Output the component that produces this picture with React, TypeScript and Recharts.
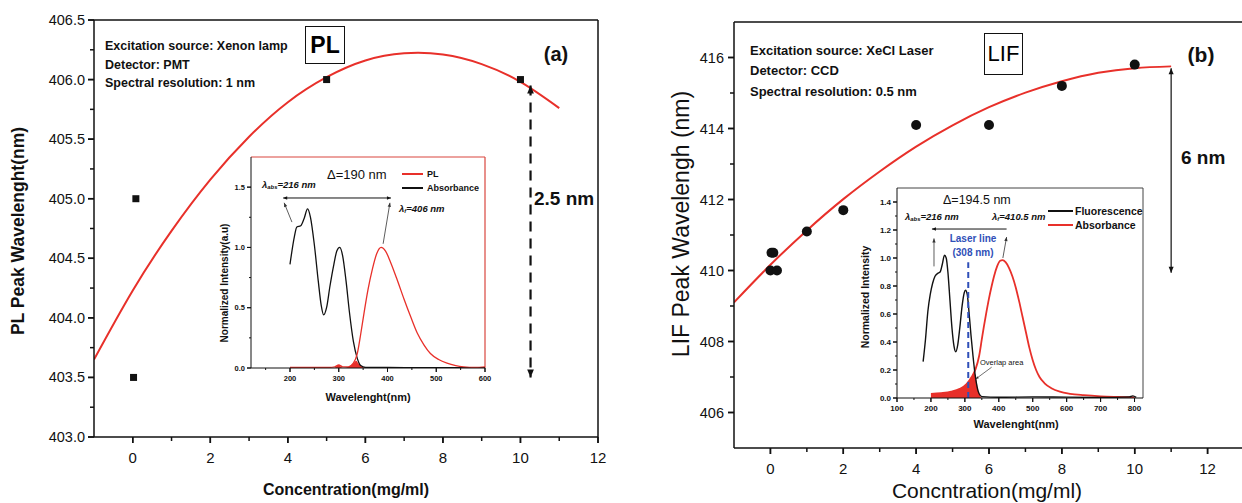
import React from "react";
import { Area, ComposedChart, Line, ReferenceLine, Scatter, XAxis, YAxis } from "recharts";

const FONT = "'Liberation Sans', Arial, Helvetica, sans-serif";
const RED = "#e8302a";
const INK = "#111";
const BLUE = "#2f4fb8";

// ---- panel (a): PL peak vs concentration
const concA = [0.08, 0.02, 5, 10];
const peakA = [405.0, 403.5, 406.0, 406.0];
const fitConcA = [-1, 0, 1, 2, 3, 4, 5, 6, 7, 8, 9, 10, 11];
const fitPeakA = [403.65, 404.23, 404.73, 405.16, 405.52, 405.81, 406.02, 406.16, 406.22, 406.21, 406.13, 405.98, 405.76];
const concTicksA = [0, 1, 2, 3, 4, 5, 6, 7, 8, 9, 10, 11, 12];
const peakTicksA = [403, 403.25, 403.5, 403.75, 404, 404.25, 404.5, 404.75, 405, 405.25, 405.5, 405.75, 406, 406.25, 406.5];

// inset (a)
const wlAbsA = [200, 209, 214, 222, 229, 236, 242, 250, 258, 264, 269, 275, 282, 290, 296, 302, 308, 315, 322, 330, 338, 345, 355, 400, 450, 500, 550, 600];
const absA = [0.86, 1.09, 1.17, 1.18, 1.24, 1.32, 1.25, 1.02, 0.72, 0.52, 0.44, 0.5, 0.68, 0.86, 0.97, 1.0, 0.93, 0.72, 0.46, 0.22, 0.08, 0.02, 0.005, 0.004, 0.003, 0.002, 0.002, 0.002];
const wlPlA = [200, 280, 292, 300, 308, 320, 330, 338, 345, 352, 360, 369, 378, 387, 396, 406, 420, 434, 448, 461, 475, 488, 505, 522, 540, 556, 580, 600];
const plA = [0.005, 0.005, 0.01, 0.025, 0.01, 0.01, 0.04, 0.12, 0.28, 0.46, 0.65, 0.82, 0.95, 1.0, 0.97, 0.88, 0.73, 0.57, 0.42, 0.29, 0.19, 0.12, 0.07, 0.04, 0.02, 0.01, 0.005, 0.01];
const wlOverlapA = [292, 300, 308, 320, 330, 336, 340, 345, 352];
const overlapA = [0, 0.025, 0, 0.01, 0.04, 0.06, 0.04, 0.02, 0];
const wlTicksA = [150, 200, 250, 300, 350, 400, 450, 500, 550, 600];
const intTicksA = [0, 0.25, 0.5, 0.75, 1, 1.25, 1.5];

// ---- panel (b): LIF peak vs concentration
const concB = [0, 0.18, 0.03, 0.08, 1, 2, 4, 6, 8, 10];
const peakB = [410, 410, 410.5, 410.5, 411.1, 411.7, 414.1, 414.1, 415.2, 415.8];
const fitConcB = [-1, 0, 1, 2, 3, 4, 5, 6, 7, 8, 9, 10, 11];
const fitPeakB = [409.1, 410.16, 411.13, 412.01, 412.79, 413.49, 414.09, 414.6, 415.01, 415.33, 415.57, 415.7, 415.75];
const concTicksB = [0, 1, 2, 3, 4, 5, 6, 7, 8, 9, 10, 11, 12, 13];
const peakTicksB = [406, 407, 408, 409, 410, 411, 412, 413, 414, 415, 416];

// inset (b)
const wlFluoB = [177, 184, 191, 198, 205, 212, 220, 227, 233, 240, 245, 250, 256, 262, 268, 273, 279, 285, 292, 298, 302, 307, 312, 318, 324, 330, 336, 342, 350, 400, 500, 600, 700, 785, 795, 805];
const fluoB = [0.26, 0.42, 0.62, 0.74, 0.82, 0.87, 0.89, 0.9, 0.95, 1.02, 1.0, 0.9, 0.7, 0.5, 0.37, 0.33, 0.38, 0.5, 0.66, 0.75, 0.77, 0.74, 0.62, 0.45, 0.3, 0.17, 0.08, 0.03, 0.01, 0.005, 0.008, 0.006, 0.004, 0.008, 0.015, 0.004];
const wlAbsB = [200, 230, 260, 285, 305, 320, 332, 342, 350, 356, 364, 371, 379, 386, 395, 404, 411, 420, 430, 440, 450, 460, 470, 480, 490, 500, 510, 520, 535, 555, 580, 610, 650, 700, 750, 800];
const absB = [0.03, 0.035, 0.045, 0.065, 0.1, 0.15, 0.21, 0.3, 0.42, 0.51, 0.62, 0.71, 0.8, 0.87, 0.94, 0.98, 0.985, 0.97, 0.93, 0.87, 0.79, 0.69, 0.58, 0.47, 0.36, 0.27, 0.2, 0.15, 0.105, 0.07, 0.045, 0.03, 0.02, 0.012, 0.008, 0.005];
const wlOverlapB = [200, 230, 260, 285, 305, 320, 328, 333, 338, 344, 350];
const overlapB = [0.03, 0.035, 0.045, 0.065, 0.1, 0.15, 0.18, 0.14, 0.07, 0.02, 0];
const wlTicksB = [100, 150, 200, 250, 300, 350, 400, 450, 500, 550, 600, 650, 700, 750, 800];
const intTicksB = [0, 0.1, 0.2, 0.3, 0.4, 0.5, 0.6, 0.7, 0.8, 0.9, 1, 1.1, 1.2, 1.3, 1.4];

const half = (v: number) => Math.abs(v * 2 - Math.round(v * 2)) < 1e-6;
const even = (v: number) => Math.round(v) % 2 === 0;
const hundred = (v: number) => Math.round(v) % 100 === 0;
const fifth = (v: number) => Math.round(v * 10) % 2 === 0;

// tick label only (the axis draws the major tick line itself)
const makeLabel = (o: { side: "bottom" | "left"; fmt: (v: number) => string; gap: number; size: number; bold?: boolean }) => (props: any) => {
  const { x, y, payload } = props;
  const txt = {
    fontSize: o.size,
    fontFamily: FONT,
    fontWeight: o.bold ? 700 : 400,
    fill: INK,
    dominantBaseline: "central" as const,
  };
  return o.side === "bottom" ? (
    <text x={x} y={y + o.gap} textAnchor="middle" {...txt}>
      {o.fmt(payload.value)}
    </text>
  ) : (
    <text x={x - o.gap} y={y} textAnchor="end" {...txt}>
      {o.fmt(payload.value)}
    </text>
  );
};

// minor + major outward tick marks as short segments from the plot edge
// edge: the other axis' domain start; step: data units per pixel of the other axis
const tickSegs = (axis: "x" | "y", values: number[], isMajor: (v: number) => boolean, major: number, minor: number, sw: number, edge: number, step: number) =>
  values.map((v) => {
    const d = (isMajor(v) ? major : minor) * step;
    const seg =
      axis === "x"
        ? [{ x: v, y: edge }, { x: v, y: edge - d }]
        : [{ x: edge, y: v }, { x: edge - d, y: v }];
    return <ReferenceLine key={`${axis}${v}`} segment={seg} ifOverflow="visible" stroke={INK} strokeWidth={sw} />;
  });

const arrow = (o: { start?: boolean; end?: boolean; dash?: string; w: number; head: number; color: string }) => (p: any) => {
  const { x1, y1, x2, y2 } = p;
  const a = Math.atan2(y2 - y1, x2 - x1);
  const head = (x: number, y: number, ang: number) => {
    const h = o.head;
    const hw = h * 0.42;
    const bx = x - h * Math.cos(ang);
    const by = y - h * Math.sin(ang);
    return (
      <polygon
        points={`${x},${y} ${bx + hw * Math.sin(ang)},${by - hw * Math.cos(ang)} ${bx - hw * Math.sin(ang)},${by + hw * Math.cos(ang)}`}
        fill={o.color}
      />
    );
  };
  return (
    <g>
      <line x1={x1} y1={y1} x2={x2} y2={y2} stroke={o.color} strokeWidth={o.w} strokeDasharray={o.dash} />
      {o.end && head(x2, y2, a)}
      {o.start && head(x1, y1, a + Math.PI)}
    </g>
  );
};

function Note({
  x,
  y,
  size,
  bold,
  italic,
  color,
  center,
  rotate,
  children,
}: {
  x: number;
  y: number;
  size: number;
  bold?: boolean;
  italic?: boolean;
  color?: string;
  center?: boolean;
  rotate?: boolean;
  children: React.ReactNode;
}) {
  const tf = rotate ? "translate(-50%,-50%) rotate(-90deg)" : center ? "translate(-50%,-50%)" : "translate(0,-50%)";
  return (
    <div
      style={{
        position: "absolute",
        left: x,
        top: y,
        transform: tf,
        fontSize: size,
        fontWeight: bold ? 700 : 400,
        fontStyle: italic ? "italic" : "normal",
        color: color ?? INK,
        whiteSpace: "nowrap",
        lineHeight: 1,
        fontFamily: FONT,
      }}
    >
      {children}
    </div>
  );
}

const Sub = ({ children }: { children: React.ReactNode }) => (
  <span style={{ fontSize: "0.62em", position: "relative", top: "0.25em" }}>{children}</span>
);

const LegendLine = ({ x, y, w, color }: { x: number; y: number; w: number; color: string }) => (
  <div style={{ position: "absolute", left: x, top: y - 1, width: w, height: 2, background: color }} />
);

const labConcA = makeLabel({ side: "bottom", fmt: (v) => String(v), gap: 14, size: 15 });
const labPeakA = makeLabel({ side: "left", fmt: (v) => v.toFixed(1), gap: 3, size: 14.5 });
const labWlA = makeLabel({ side: "bottom", fmt: (v) => String(v), gap: 6, size: 7.5, bold: true });
const labIntA = makeLabel({ side: "left", fmt: (v) => v.toFixed(1), gap: 2, size: 7.5, bold: true });
const labConcB = makeLabel({ side: "bottom", fmt: (v) => String(v), gap: 14, size: 15 });
const labPeakB = makeLabel({ side: "left", fmt: (v) => String(v), gap: 4, size: 14.5 });
const labWlB = makeLabel({ side: "bottom", fmt: (v) => String(v), gap: 6, size: 8, bold: true });
const labIntB = makeLabel({ side: "left", fmt: (v) => v.toFixed(1), gap: 2, size: 8, bold: true });

const mainLine = { stroke: INK, strokeWidth: 1.5 };
const insetLine = { stroke: INK, strokeWidth: 1 };

export default function App() {
  const pointsA = concA.map((c, i) => ({ conc: c, peak: peakA[i] }));
  const fitA = fitConcA.map((c, i) => ({ conc: c, peak: fitPeakA[i] }));
  const absRowsA = wlAbsA.map((w, i) => ({ wl: w, v: absA[i] }));
  const plRowsA = wlPlA.map((w, i) => ({ wl: w, v: plA[i] }));
  const overRowsA = wlOverlapA.map((w, i) => ({ wl: w, v: overlapA[i] }));

  const pointsB = concB.map((c, i) => ({ conc: c, peak: peakB[i] }));
  const fitB = fitConcB.map((c, i) => ({ conc: c, peak: fitPeakB[i] }));
  const fluoRowsB = wlFluoB.map((w, i) => ({ wl: w, v: fluoB[i] }));
  const absRowsB = wlAbsB.map((w, i) => ({ wl: w, v: absB[i] }));
  const overRowsB = wlOverlapB.map((w, i) => ({ wl: w, v: overlapB[i] }));

  return (
    <div
      style={{
        position: "absolute",
        left: 0,
        top: 0,
        width: 1242,
        height: 503,
        overflow: "hidden",
        background: "#fff",
        fontFamily: FONT,
      }}
    >
      {/* panel (a) */}
      <div style={{ position: "absolute", left: 0, top: 0 }}>
        <ComposedChart width={620} height={503} margin={{ top: 20, right: 22, bottom: 0, left: 0 }}>
          <XAxis type="number" dataKey="conc" domain={[-1, 12]} allowDataOverflow ticks={concTicksA.filter(even)} interval={0} height={66} tickLine={mainLine} tickSize={6} tickMargin={0} tick={labConcA} stroke={INK} strokeWidth={1.5} />
          <YAxis type="number" dataKey="peak" domain={[403, 406.5]} allowDataOverflow ticks={peakTicksA.filter(half)} interval={0} width={94} tickLine={mainLine} tickSize={6} tickMargin={0} tick={labPeakA} stroke={INK} strokeWidth={1.5} />
          <ReferenceLine y={406.5} stroke={INK} strokeWidth={1.5} />
          <ReferenceLine x={12} stroke={INK} strokeWidth={1.5} />
          {tickSegs("x", concTicksA, even, 6, 4, 1.5, 403, 3.5 / 417)}
          {tickSegs("y", peakTicksA, half, 6, 4, 1.5, -1, 13 / 504)}
          <Line data={fitA} dataKey="peak" type="natural" stroke={RED} strokeWidth={2} dot={false} isAnimationActive={false} />
          <Scatter
            data={pointsA}
            fill={INK}
            isAnimationActive={false}
            shape={(p: any) => <rect x={p.cx - 3.5} y={p.cy - 3.5} width={7} height={7} fill={INK} />}
          />
          <ReferenceLine
            segment={[{ x: 10.26, y: 405.95 }, { x: 10.26, y: 403.5 }]}
            shape={arrow({ start: true, end: true, dash: "10 7", w: 2.2, head: 8, color: INK })}
          />
        </ComposedChart>
      </div>
      <Note x={105} y={46} size={12.5} bold>Excitation source: Xenon lamp</Note>
      <Note x={105} y={64.5} size={12.5} bold>Detector: PMT</Note>
      <Note x={105} y={83} size={12.5} bold>Spectral resolution: 1 nm</Note>
      <div
        style={{
          position: "absolute",
          left: 305,
          top: 26,
          width: 38,
          height: 36,
          border: `1.5px solid ${INK}`,
          display: "flex",
          alignItems: "center",
          justifyContent: "center",
          fontSize: 23,
          fontWeight: 700,
          fontFamily: FONT,
        }}
      >
        PL
      </div>
      <Note x={556} y={54} size={20} bold center>(a)</Note>
      <Note x={534} y={198} size={19} bold>2.5 nm</Note>
      <Note x={19} y={231} size={17.5} bold rotate>PL Peak Wavelenght(nm)</Note>
      <Note x={346} y={490} size={16} bold center>Concentration(mg/ml)</Note>

      {/* inset (a) */}
      <div style={{ position: "absolute", left: 221, top: 153 }}>
        <ComposedChart width={278} height={235} margin={{ top: 4, right: 14, bottom: 0, left: 0 }}>
          <XAxis type="number" dataKey="wl" domain={[120, 600]} allowDataOverflow ticks={wlTicksA.filter(hundred)} interval={0} height={20} tickLine={insetLine} tickSize={4} tickMargin={0} tick={labWlA} stroke={INK} />
          <YAxis type="number" dataKey="v" domain={[0, 1.75]} allowDataOverflow ticks={intTicksA.filter(half)} interval={0} width={30} tickLine={insetLine} tickSize={4} tickMargin={0} tick={labIntA} stroke={INK} />
          <ReferenceLine y={1.75} stroke="#d9463e" strokeWidth={1.2} />
          <ReferenceLine x={600} stroke="#d9463e" strokeWidth={1.2} />
          {tickSegs("x", wlTicksA, hundred, 4, 2, 1, 0, 1.75 / 211)}
          {tickSegs("y", intTicksA, half, 4, 2, 1, 120, 480 / 234)}
          <Area data={overRowsA} dataKey="v" type="monotone" stroke="none" fill={RED} fillOpacity={1} isAnimationActive={false} />
          <Line data={absRowsA} dataKey="v" type="monotone" stroke={INK} strokeWidth={1.3} dot={false} isAnimationActive={false} />
          <Line data={plRowsA} dataKey="v" type="monotone" stroke={RED} strokeWidth={1.3} dot={false} isAnimationActive={false} />
          <ReferenceLine segment={[{ x: 186, y: 1.41 }, { x: 407, y: 1.41 }]} shape={arrow({ start: true, end: true, w: 1, head: 4, color: INK })} />
          <ReferenceLine segment={[{ x: 204, y: 1.21 }, { x: 188, y: 1.37 }]} shape={arrow({ end: true, w: 0.8, head: 4, color: "#333" })} />
          <ReferenceLine segment={[{ x: 391, y: 1.03 }, { x: 405, y: 1.37 }]} shape={arrow({ end: true, w: 0.8, head: 4, color: "#333" })} />
        </ComposedChart>
      </div>
      <Note x={327} y={174} size={13}>Δ=190 nm</Note>
      <Note x={262} y={185} size={9.5} bold italic>
        λ<Sub>abs</Sub>=216 nm
      </Note>
      <Note x={399} y={209} size={9.5} bold italic>
        λ<Sub>f</Sub>=406 nm
      </Note>
      <LegendLine x={402} y={174} w={21} color={RED} />
      <Note x={427} y={174} size={9} bold>PL</Note>
      <LegendLine x={402} y={188} w={21} color={INK} />
      <Note x={427} y={188} size={9} bold>Absorbance</Note>
      <Note x={225} y={283} size={10} bold rotate>Normalized Intensity(a.u)</Note>
      <Note x={368} y={397} size={11} bold center>Wavelenght(nm)</Note>

      {/* panel (b) */}
      <div style={{ position: "absolute", left: 620, top: 0 }}>
        <ComposedChart width={630} height={503} margin={{ top: 22, right: 6, bottom: 0, left: 0 }}>
          <XAxis type="number" dataKey="conc" domain={[-1, 13]} allowDataOverflow ticks={concTicksB.filter(even)} interval={0} height={55} tickLine={mainLine} tickSize={6} tickMargin={0} tick={labConcB} stroke={INK} strokeWidth={1.5} />
          <YAxis type="number" dataKey="peak" domain={[405, 417]} allowDataOverflow ticks={peakTicksB.filter(even)} interval={0} width={114} tickLine={mainLine} tickSize={6} tickMargin={0} tick={labPeakB} stroke={INK} strokeWidth={1.5} />
          <ReferenceLine y={417} stroke={INK} strokeWidth={1.5} />
          {tickSegs("x", concTicksB, even, 6, 4, 1.5, 405, 12 / 426)}
          {tickSegs("y", peakTicksB, even, 6, 4, 1.5, -1, 14 / 510)}
          <Line data={fitB} dataKey="peak" type="natural" stroke={RED} strokeWidth={2} dot={false} isAnimationActive={false} />
          <Scatter
            data={pointsB}
            fill={INK}
            isAnimationActive={false}
            shape={(p: any) => <circle cx={p.cx} cy={p.cy} r={5} fill={INK} />}
          />
          <ReferenceLine
            segment={[{ x: 11, y: 415.7 }, { x: 11, y: 409.94 }]}
            shape={arrow({ start: true, end: true, w: 1.2, head: 6, color: INK })}
          />
        </ComposedChart>
      </div>
      <Note x={750} y={50} size={13} bold>Excitation source: XeCl Laser</Note>
      <Note x={750} y={70} size={13} bold>Detector: CCD</Note>
      <Note x={750} y={91} size={13} bold>Spectral resolution: 0.5 nm</Note>
      <div
        style={{
          position: "absolute",
          left: 984,
          top: 33,
          width: 37,
          height: 40,
          border: `1.5px solid ${INK}`,
          display: "flex",
          alignItems: "center",
          justifyContent: "center",
          fontSize: 22,
          fontFamily: FONT,
        }}
      >
        LIF
      </div>
      <Note x={1201} y={54} size={21} bold center>(b)</Note>
      <Note x={1181} y={157} size={19} bold>6 nm</Note>
      <Note x={681} y={224} size={23} rotate>LIF Peak Wavelengh (nm)</Note>
      <Note x={987} y={490} size={21} center>Concntration(mg/ml)</Note>

      {/* inset (b) */}
      <div style={{ position: "absolute", left: 867, top: 184 }}>
        <ComposedChart width={290} height={234} margin={{ top: 4, right: 14, bottom: 0, left: 0 }}>
          <XAxis type="number" dataKey="wl" domain={[100, 825]} allowDataOverflow ticks={wlTicksB.filter(hundred)} interval={0} height={20} tickLine={insetLine} tickSize={4} tickMargin={0} tick={labWlB} stroke={INK} />
          <YAxis type="number" dataKey="v" domain={[0, 1.5]} allowDataOverflow ticks={intTicksB.filter(fifth)} interval={0} width={30} tickLine={insetLine} tickSize={4} tickMargin={0} tick={labIntB} stroke={INK} />
          <ReferenceLine y={1.5} stroke="#444" strokeWidth={1} />
          <ReferenceLine x={825} stroke="#444" strokeWidth={1} />
          {tickSegs("x", wlTicksB, hundred, 4, 2, 1, 0, 1.5 / 210)}
          {tickSegs("y", intTicksB, fifth, 4, 2, 1, 100, 725 / 246)}
          <Area data={overRowsB} dataKey="v" type="monotone" stroke="none" fill={RED} fillOpacity={1} isAnimationActive={false} />
          <Line data={absRowsB} dataKey="v" type="monotone" stroke={RED} strokeWidth={1.8} dot={false} isAnimationActive={false} />
          <Line data={fluoRowsB} dataKey="v" type="monotone" stroke={INK} strokeWidth={1.4} dot={false} isAnimationActive={false} />
          <ReferenceLine segment={[{ x: 310, y: 0 }, { x: 310, y: 0.97 }]} stroke={BLUE} strokeWidth={2} strokeDasharray="6 4" />
          <ReferenceLine segment={[{ x: 203, y: 1.207 }, { x: 423, y: 1.207 }]} shape={arrow({ start: true, w: 1, head: 4, color: INK })} />
          <ReferenceLine segment={[{ x: 209, y: 0.94 }, { x: 209, y: 1.14 }]} shape={arrow({ end: true, w: 0.8, head: 4, color: "#333" })} />
          <ReferenceLine segment={[{ x: 412, y: 1.0 }, { x: 423, y: 1.15 }]} shape={arrow({ end: true, w: 0.8, head: 4, color: "#333" })} />
          <ReferenceLine segment={[{ x: 379, y: 0.22 }, { x: 332, y: 0.136 }]} shape={arrow({ end: true, w: 0.7, head: 3, color: "#333" })} />
        </ComposedChart>
      </div>
      <Note x={943} y={200} size={12.5}>Δ=194.5 nm</Note>
      <Note x={905} y={217} size={9.5} bold italic>
        λ<Sub>abs</Sub>=216 nm
      </Note>
      <Note x={992} y={217} size={9.5} bold italic>
        λ<Sub>f</Sub>=410.5 nm
      </Note>
      <Note x={973} y={239} size={10} bold center color={BLUE}>Laser line</Note>
      <Note x={973} y={253} size={10} bold center color={BLUE}>(308 nm)</Note>
      <Note x={980} y={363} size={7.5}>Overlap area</Note>
      <LegendLine x={1048} y={211} w={25} color={INK} />
      <Note x={1075} y={211} size={10.5} bold>Fluorescence</Note>
      <LegendLine x={1048} y={225} w={25} color={RED} />
      <Note x={1075} y={225} size={10.5} bold>Absorbance</Note>
      <Note x={865} y={297} size={10.5} bold rotate>Normalized Intensity</Note>
      <Note x={1016} y={424} size={11} bold center>Wavelenght(nm)</Note>
    </div>
  );
}
